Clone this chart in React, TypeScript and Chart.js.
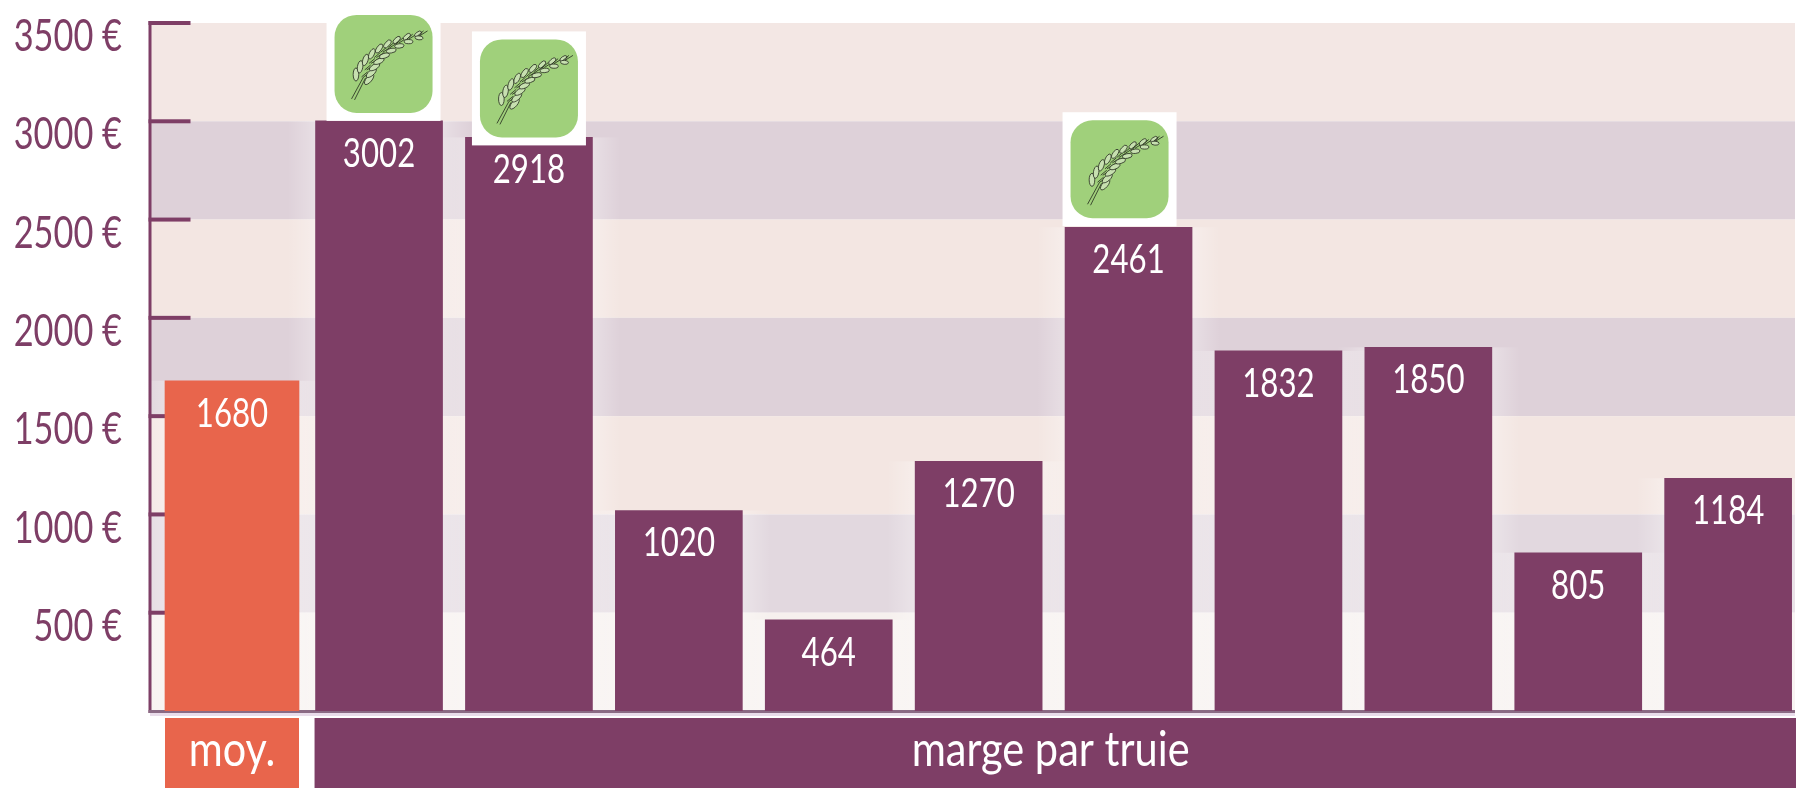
import React, { useEffect, useRef } from "react";
import { Chart, registerables } from "chart.js";

Chart.register(...registerables);

const averageLabel = "moy.";
const farmLabel = "marge par truie";
const averageValue = [1680];
const farmValues = [3002, 2918, 1020, 464, 1270, 2461, 1832, 1850, 805, 1184];
const organicFarms = [3002, 2918, 2461];

const PURPLE = "#7e3e66";
const ORANGE = "#e8654c";
const FONT = "Lato";

function squishedText(c: CanvasRenderingContext2D, text: string, x: number, y: number, size: number, sx: number, align: CanvasTextAlign) {
  c.save();
  c.translate(x, y);
  c.scale(sx, 1);
  c.font = `400 ${size}px ${FONT}`;
  c.textAlign = align;
  c.textBaseline = "middle";
  c.fillText(text, 0, 0);
  c.restore();
}

function drawIcon(c: CanvasRenderingContext2D, cx: number, greenBottom: number) {
  const size = 98;
  const top = greenBottom - size;
  const left = cx - size / 2;
  c.save();
  c.fillStyle = "#ffffff";
  c.fillRect(cx - 57, top - 8, 114, 114);
  c.fillStyle = "#a0d07b";
  c.beginPath();
  c.roundRect(left, top, size, size, 22);
  c.fill();
  c.translate(left, top);
  c.strokeStyle = "#23281d";
  c.lineWidth = 0.8;
  c.beginPath();
  c.moveTo(17, 84);
  c.lineTo(29, 62);
  c.moveTo(20, 85);
  c.lineTo(31, 63);
  c.stroke();
  const n = 9;
  for (let i = 0; i < n; i++) {
    const t = i / (n - 1);
    const px = (1 - t) * (1 - t) * 28 + 2 * t * (1 - t) * 38.5 + t * t * 84;
    const py = (1 - t) * (1 - t) * 62 + 2 * t * (1 - t) * 33 + t * t * 21;
    const dx = 2 * (1 - t) * 10.5 + 2 * t * 45.5;
    const dy = 2 * (1 - t) * -29 + 2 * t * -12;
    const ang = Math.atan2(dy, dx);
    const off = 7 - t * 5;
    for (const side of [-1, 1]) {
      c.beginPath();
      c.ellipse(
        px + (side * off * -dy) / Math.hypot(dx, dy),
        py + (side * off * dx) / Math.hypot(dx, dy),
        6.5 - t * 2.5,
        2.8 - t * 0.8,
        ang + side * 0.35,
        0,
        Math.PI * 2
      );
      c.fillStyle = "#c7e0b0";
      c.fill();
      c.stroke();
      c.beginPath();
      c.moveTo(px + side, py);
      c.lineTo(px + 7 + side * 2, py - 5);
      c.stroke();
    }
  }
  c.restore();
}

const chartPlugin = {
  id: "farmDecor",
  beforeDatasetsDraw(chart: any) {
    const { ctx: c, scales, chartArea: a } = chart;
    const y = scales.y;
    const bands = [
      [3500, 3000, "#f3e7e4"],
      [3000, 2500, "#ded1d9"],
      [2500, 2000, "#f3e6e2"],
      [2000, 1500, "#ded1d9"],
      [1500, 1000, "#f3e6e2"],
      [1000, 500, "#e2d8df"],
      [500, 0, "#f6f0ee"],
    ] as const;
    c.save();
    for (const [hi, lo, col] of bands) {
      c.fillStyle = col;
      const t = y.getPixelForValue(hi);
      c.fillRect(a.left, t, a.right - a.left, y.getPixelForValue(lo) - t);
    }
    // soft halo the bars leave on the bands
    const bars = [...chart.getDatasetMeta(0).data, ...chart.getDatasetMeta(1).data];
    const halo = 28;
    for (const b of bars) {
      const l = b.x - b.width / 2;
      const r = b.x + b.width / 2;
      const g1 = c.createLinearGradient(r, 0, r + halo, 0);
      g1.addColorStop(0, "rgba(255,255,255,0.3)");
      g1.addColorStop(1, "rgba(255,255,255,0)");
      c.fillStyle = g1;
      c.fillRect(r, b.y, Math.min(halo, a.right - r), a.bottom - b.y);
      const g2 = c.createLinearGradient(l, 0, l - halo, 0);
      g2.addColorStop(0, "rgba(255,255,255,0.3)");
      g2.addColorStop(1, "rgba(255,255,255,0)");
      c.fillStyle = g2;
      c.fillRect(l - halo, b.y, halo, a.bottom - b.y);
    }
    c.fillStyle = PURPLE;
    for (const t of y.ticks) {
      if (t.value > 0) c.fillRect(a.left - 1.5, y.getPixelForValue(t.value) - 2, 42, 4);
    }
    c.fillRect(a.left - 1.5, a.top - 2, 3, a.bottom - a.top + 4);
    c.fillStyle = "#8a6a84";
    c.fillRect(a.left - 1.5, a.bottom - 1, a.right - a.left + 1.5, 3);
    c.fillStyle = "#e9dcea";
    c.fillRect(a.left, a.bottom + 2, a.right - a.left, 3);
    c.fillStyle = PURPLE;
    for (const t of y.ticks) {
      if (t.value > 0) squishedText(c, `${t.value} €`, 122, y.getPixelForValue(t.value) + 14, 44, 0.78, "right");
    }
    c.restore();
  },
  afterDatasetsDraw(chart: any) {
    const { ctx: c, chartArea: a, scales } = chart;
    const avgBar = chart.getDatasetMeta(0).data[0];
    const farmBars = chart.getDatasetMeta(1).data;
    const shifts = [4.5, 0, 0, 0, 0, -9, 0, 0, 0, 0];
    const drops = [8, 0, 0, 0, 0, 9, 0, 0, 0, 0];
    farmValues.forEach((v, i) => {
      if (organicFarms.includes(v)) {
        const b = farmBars[i];
        drawIcon(c, b.x + shifts[i], b.y - drops[i]);
      }
    });
    c.save();
    c.fillStyle = "#ffffff";
    squishedText(c, String(averageValue[0]), avgBar.x, avgBar.y + 33, 40, 0.78, "center");
    farmValues.forEach((v, i) => squishedText(c, String(v), farmBars[i].x, farmBars[i].y + 33, 40, 0.78, "center"));

    const top = a.bottom + 7;
    const h = chart.height - top;
    const avgLeft = avgBar.x - avgBar.width / 2;
    c.fillStyle = ORANGE;
    c.fillRect(avgLeft, top, avgBar.width, h);
    const farmLeft = farmBars[0].x - farmBars[0].width / 2 - 1;
    c.fillStyle = PURPLE;
    c.fillRect(farmLeft, top, a.right + 1 - farmLeft, h);
    c.fillStyle = "#ffffff";
    squishedText(c, averageLabel, avgBar.x, top + h / 2 - 2, 48, 0.86, "center");
    squishedText(c, farmLabel, scales.x.getPixelForValue(5.48), top + h / 2 - 2, 48, 0.865, "center");
    c.restore();
  },
};

export default function App() {
  const ref = useRef<HTMLCanvasElement>(null);
  useEffect(() => {
    document.body.style.margin = "0";
    document.body.style.overflow = "hidden";
    const chart = new Chart(ref.current as HTMLCanvasElement, {
      type: "bar",
      data: {
        datasets: [
          {
            label: averageLabel,
            data: averageValue.map((v) => ({ x: 0.019, y: v })),
            backgroundColor: ORANGE,
            barThickness: 134,
          },
          {
            label: farmLabel,
            data: farmValues.map((v, i) => ({ x: i + 1, y: v })),
            backgroundColor: PURPLE,
            barThickness: 127,
          },
        ],
      },
      options: {
        responsive: false,
        animation: false,
        layout: { padding: { top: 23, right: 7, bottom: 77, left: 0 } },
        plugins: { legend: { display: false }, tooltip: { enabled: false } },
        scales: {
          x: {
            type: "linear",
            min: -0.528,
            max: 10.446,
            offset: false,
            display: false,
          },
          y: {
            min: 0,
            max: 3500,
            afterFit: (s: any) => {
              s.width = 150;
            },
            grid: { display: false },
            border: { display: false },
            ticks: { stepSize: 500, display: false },
          },
        },
        datasets: { bar: { grouped: false } },
      } as any,
      plugins: [chartPlugin],
    });
    return () => chart.destroy();
  }, []);
  return <canvas ref={ref} width={1802} height={788} style={{ display: "block" }} />;
}
